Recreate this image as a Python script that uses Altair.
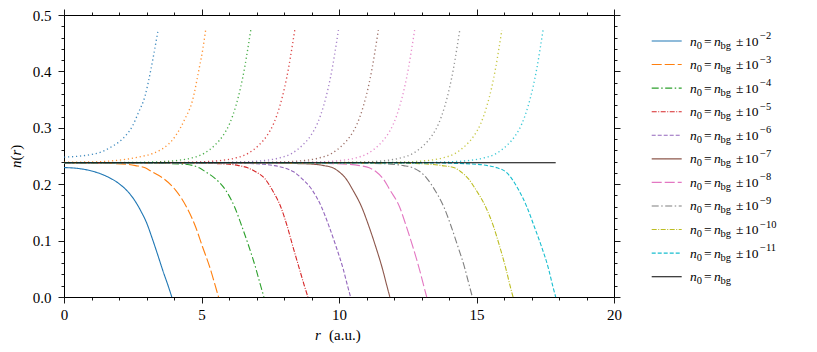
import altair as alt
import pandas as pd

FONT = "Liberation Serif"

EXPONENTS = [2, 3, 4, 5, 6, 7, 8, 9, 10, 11]
SERIES = [f"k{k}" for k in EXPONENTS] + ["bg"]
COLORS = ["#1f77b4", "#ff7f0e", "#2ca02c", "#d62728", "#9467bd",
          "#8c564b", "#e377c2", "#7f7f7f", "#bcbd22", "#17becf", "#000000"]
DASHES = [[1, 0], [10, 3], [7, 2.5, 1.5, 2.5], [5, 1.5, 1, 1.5], [4, 2],
          [1, 0], [10, 3], [7, 2.5, 1.5, 2.5], [5, 1.5, 1, 1.5], [4, 2], [1, 0]]
SUPERSCRIPTS = ["\u22122", "\u22123", "\u22124", "\u22125", "\u22126",
                "\u22127", "\u22128", "\u22129", "\u221210", "\u221211"]

X_TICKS = [0, 1, 2, 3, 4, 5, 6, 7, 8, 9, 10, 11, 12, 13, 14, 15, 16, 17, 18, 19, 20]
Y_TICKS = [0.0, 0.02, 0.04, 0.06, 0.08, 0.1, 0.12, 0.14, 0.16, 0.18, 0.2, 0.22, 0.24,
           0.26, 0.28, 0.3, 0.32, 0.34, 0.36, 0.38, 0.4, 0.42, 0.44, 0.46, 0.48, 0.5]

# background density line
BG_R = [0.0, 17.88]
BG_N = [0.238, 0.238]

# decreasing branches (n0 = n_bg - 10^-k)
DOWN2_R = [0.0, 0.5, 1.0, 1.5, 2.0, 2.3, 2.6, 2.8, 3.0, 3.2, 3.4, 3.6, 3.8, 3.92]
DOWN2_N = [0.2295, 0.2280, 0.2235, 0.2150, 0.2010, 0.1880, 0.1690, 0.1520, 0.1320,
           0.1050, 0.0760, 0.0460, 0.0180, 0.0]
DOWN_LEVELS = [0.238, 0.2378, 0.2370, 0.2355, 0.2330, 0.2290, 0.2220, 0.2100, 0.1900,
               0.1600, 0.1250, 0.0900, 0.0500, 0.0200, 0.0]
DOWN_R = {
    3: [0, 0.8, 1.6, 2.25, 2.6, 2.95, 3.2, 3.62, 4.05, 4.45, 4.78, 5.03, 5.32, 5.5, 5.62],
    4: [0, 2.5, 3.5, 4.35, 4.7, 4.92, 5.15, 5.5, 5.87, 6.2, 6.47, 6.72, 6.98, 7.15, 7.27],
    5: [0, 4.2, 5.2, 6.0, 6.35, 6.68, 6.97, 7.3, 7.57, 7.88, 8.12, 8.32, 8.56, 8.74, 8.87],
    6: [0, 5.6, 6.5, 7.2, 7.65, 8.0, 8.35, 8.65, 9.02, 9.36, 9.64, 9.89, 10.15, 10.31, 10.42],
    7: [0, 7.1, 8.1, 9.05, 9.45, 9.78, 10.0, 10.25, 10.5, 10.82, 11.09, 11.33, 11.58, 11.74, 11.85],
    8: [0, 8.5, 9.4, 10.3, 10.75, 11.1, 11.35, 11.6, 11.85, 12.2, 12.45, 12.68, 12.92, 13.08, 13.19],
    9: [0, 10.2, 11.1, 11.9, 12.35, 12.7, 12.95, 13.2, 13.48, 13.81, 14.08, 14.32, 14.58, 14.74, 14.85],
    10: [0, 11.7, 12.6, 13.3, 13.75, 14.2, 14.43, 14.7, 14.98, 15.33, 15.62, 15.84, 16.07, 16.22, 16.33],
    11: [0, 13.2, 14.2, 14.95, 15.4, 15.75, 16.06, 16.28, 16.53, 16.83, 17.1, 17.36, 17.62, 17.77, 17.88],
}

# increasing branches (n0 = n_bg + 10^-k), dotted
UP2_R = [0.0, 0.5, 1.03, 1.4, 1.64, 2.0, 2.24, 2.5, 2.69, 2.95, 3.15, 3.33, 3.42]
UP2_N = [0.248, 0.2495, 0.253, 0.258, 0.264, 0.275, 0.286, 0.304, 0.325, 0.357, 0.401,
         0.448, 0.473]
UP3_R = [0.0, 1.0, 1.64, 2.3, 2.85, 3.2, 3.52, 3.8, 4.06, 4.4, 4.67, 4.91, 5.05, 5.15]
UP3_N = [0.239, 0.2395, 0.241, 0.2445, 0.2495, 0.254, 0.261, 0.271, 0.286, 0.316, 0.348,
         0.404, 0.44, 0.473]
UP_LEVELS = [0.238, 0.2385, 0.2395, 0.2415, 0.246, 0.255, 0.269, 0.286, 0.307, 0.339,
             0.371, 0.407, 0.442, 0.473]
UP_R = {
    4: [0, 2.29, 3.29, 3.99, 4.59, 5.11, 5.48, 5.78, 6.02, 6.25, 6.42, 6.57, 6.69, 6.79],
    5: [0, 3.89, 4.89, 5.59, 6.19, 6.71, 7.08, 7.38, 7.62, 7.85, 8.02, 8.17, 8.29, 8.39],
    6: [0, 5.48, 6.48, 7.18, 7.78, 8.30, 8.67, 8.97, 9.21, 9.44, 9.61, 9.76, 9.88, 9.98],
    7: [0, 6.93, 7.93, 8.63, 9.23, 9.75, 10.12, 10.42, 10.66, 10.89, 11.06, 11.21, 11.33, 11.43],
    8: [0, 8.25, 9.25, 9.95, 10.55, 11.07, 11.44, 11.74, 11.98, 12.21, 12.38, 12.53, 12.65, 12.75],
    9: [0, 9.89, 10.89, 11.59, 12.19, 12.71, 13.08, 13.38, 13.62, 13.85, 14.02, 14.17, 14.29, 14.39],
    10: [0, 11.42, 12.42, 13.12, 13.72, 14.24, 14.61, 14.91, 15.15, 15.38, 15.55, 15.70, 15.82, 15.92],
    11: [0, 12.92, 13.92, 14.62, 15.22, 15.74, 16.11, 16.41, 16.65, 16.88, 17.05, 17.20, 17.32, 17.42],
}

# ---------- tables ----------
down_rows = [dict(series="k2", r=r, n=n) for r, n in zip(DOWN2_R, DOWN2_N)]
for k, rs in DOWN_R.items():
    down_rows += [dict(series=f"k{k}", r=r, n=n) for r, n in zip(rs, DOWN_LEVELS)]
df_down = pd.DataFrame(down_rows)

up_rows = [dict(series="k2", r=r, n=n) for r, n in zip(UP2_R, UP2_N)]
up_rows += [dict(series="k3", r=r, n=n) for r, n in zip(UP3_R, UP3_N)]
for k, rs in UP_R.items():
    up_rows += [dict(series=f"k{k}", r=r, n=n) for r, n in zip(rs, UP_LEVELS)]
df_up = pd.DataFrame(up_rows)

df_bg = pd.DataFrame({"r": BG_R, "n": BG_N})

xs = alt.Scale(domain=[0, 20], nice=False, zero=False)
ys = alt.Scale(domain=[0, 0.5], nice=False)
cs = alt.Scale(domain=SERIES, range=COLORS)
ds = alt.Scale(domain=SERIES, range=DASHES)

X_MAJOR = "datum.value % 5 === 0"
Y_MAJOR = "abs(datum.value * 10 - round(datum.value * 10)) < 1e-6"


def axis(orient, values, major, fmt, labels, pad):
    return alt.Axis(
        orient=orient, values=values, format=fmt, title=None, grid=False,
        labels=labels, labelExpr=f"{major} ? datum.label : ''",
        labelFont=FONT, labelFontSize=15, labelColor="black",
        labelPadding=pad, labelOverlap=False, labelFlush=False,
        tickSize={"condition": {"test": major, "value": 6}, "value": 3},
        tickColor="black", tickWidth=0.9, domainColor="black", domainWidth=1,
    )


down = alt.Chart(df_down).mark_line(strokeWidth=1.1, interpolate="monotone").encode(
    x=alt.X("r:Q", scale=xs, axis=axis("bottom", X_TICKS, X_MAJOR, "d", True, 4)),
    y=alt.Y("n:Q", scale=ys, axis=axis("left", Y_TICKS, Y_MAJOR, ".1f", True, 7)),
    color=alt.Color("series:N", scale=cs, legend=None),
    strokeDash=alt.StrokeDash("series:N", scale=ds, legend=None),
)

up = alt.Chart(df_up).mark_line(
    strokeWidth=1.35, strokeDash=[1.2, 2.8], opacity=0.85, interpolate="monotone"
).encode(
    x=alt.X("r:Q", scale=xs, axis=axis("top", X_TICKS, X_MAJOR, "d", False, 4)),
    y=alt.Y("n:Q", scale=ys, axis=axis("right", Y_TICKS, Y_MAJOR, ".1f", False, 7)),
    color=alt.Color("series:N", scale=cs, legend=None),
)

bg = alt.Chart(df_bg).mark_line(color="black", strokeWidth=1.1).encode(
    x=alt.X("r:Q", scale=xs, axis=None),
    y=alt.Y("n:Q", scale=ys, axis=None),
)

plot = alt.layer(down, up, bg)

# ---------- legend ----------
df_leg = pd.DataFrame({"row": list(range(11)), "series": SERIES,
                       "sup": SUPERSCRIPTS + [""]})
df_leg_pm = df_leg[df_leg["row"] < 10]
row_y = alt.Y("row:O", scale=alt.Scale(type="point", domain=list(range(11)),
                                       range=[26, 261.7], padding=0), axis=None)

swatch = alt.Chart(df_leg).mark_rule(strokeWidth=1.1).encode(
    x=alt.value(587.7), x2=alt.value(617.7), y=row_y,
    color=alt.Color("series:N", scale=cs, legend=None),
    strokeDash=alt.StrokeDash("series:N", scale=ds, legend=None),
)

MAIN = 13.5
SMALL = 10.5


def piece(text, x, size, dy, italic=False, data=df_leg):
    return alt.Chart(data).mark_text(
        text=text, align="left", baseline="alphabetic", font=FONT, fontSize=size,
        fontStyle="italic" if italic else "normal", dy=dy, color="black",
    ).encode(x=alt.value(x), y=row_y)


sup = alt.Chart(df_leg_pm).mark_text(
    align="left", baseline="alphabetic", font=FONT, fontSize=SMALL, dy=-2, color="black"
).encode(x=alt.value(696), y=row_y, text="sup:N")

legend_layers = [
    swatch,
    piece("n", 626, MAIN, 4.5, italic=True),
    piece("0", 632.7, SMALL, 7.5),
    piece("=", 640, MAIN, 4.5),
    piece("n", 650, MAIN, 4.5, italic=True),
    piece("bg", 656.5, SMALL, 7.5),
    piece("\u00b1", 672, MAIN, 4.5, data=df_leg_pm),
    piece("10", 681, MAIN, 4.5, data=df_leg_pm),
    sup,
]

# ---------- axis titles ----------
one = pd.DataFrame({"i": [0]})


def title_piece(text, x, y, italic=False, angle=0):
    return alt.Chart(one).mark_text(
        text=text, align="left", baseline="alphabetic", font=FONT, fontSize=15,
        fontStyle="italic" if italic else "normal", angle=angle, color="black",
    ).encode(x=alt.value(x), y=alt.value(y))


titles = [
    title_piece("r", 251, 325, italic=True),
    title_piece("(a.u.)", 265, 325),
    title_piece("n", -43, 153, italic=True, angle=270),
    title_piece("(", -43, 145.5, angle=270),
    title_piece("r", -43, 140.5, italic=True, angle=270),
    title_piece(")", -43, 134.7, angle=270),
]

chart = alt.layer(plot, *legend_layers, *titles).resolve_scale(
    y="independent"
).properties(
    width=550, height=282,
    autosize=alt.AutoSizeParams(type="none"),
    padding={"left": 56, "top": 7, "right": 190, "bottom": 47},
).configure_view(stroke=None)

chart.save("out.html", embed_options={"renderer": "svg", "actions": False})
